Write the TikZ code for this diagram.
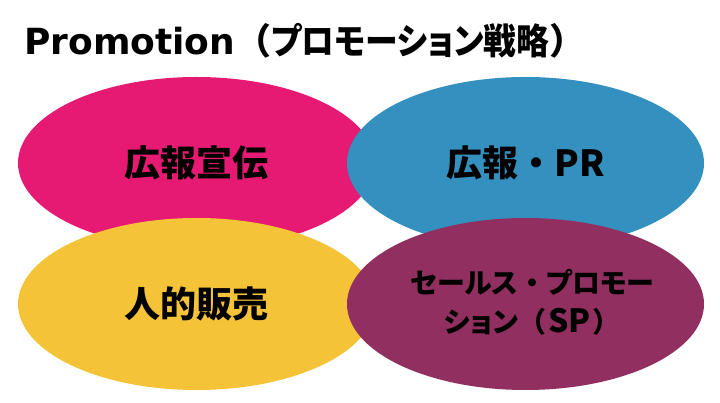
\documentclass[tikz,border=0pt]{standalone}
\usepackage{fontspec}
\usetikzlibrary{shapes.geometric}
\newfontfamily\jpfont{Noto Sans CJK JP}[RawFeature=+palt]
\newfontfamily\jptitle{Noto Sans CJK JP}[RawFeature=+palt, FakeStretch=0.91]
\newfontfamily\jpfull{Noto Sans CJK JP}
\newfontfamily\latinfont{DejaVu Sans}
\newcommand\fw[1]{{\jpfull\bfseries #1}}
\definecolor{cpink}{HTML}{E61973}
\definecolor{cblue}{HTML}{3490BE}
\definecolor{cyellow}{HTML}{F5C337}
\definecolor{cpurple}{HTML}{913060}
\begin{document}
\begin{tikzpicture}[x=1pt,y=-1pt,
  ell/.style={ellipse, draw=none, minimum width=357pt, minimum height=172pt, inner sep=0pt,
    font=\jpfont\bfseries\fontsize{36}{40}\selectfont, text=black, align=center},
  smalltxt/.style={inner sep=0pt, align=center, text=black, font=\jpfont\bfseries\fontsize{28}{39}\selectfont}]
\useasboundingbox (0,0) rectangle (720,403);
\fill[white] (0,0) rectangle (720,403);
\node[anchor=base west, inner sep=0pt] (title) at (24,55)
  {\latinfont\bfseries\fontsize{36}{40}\selectfont Promotion\fw{（}\jptitle\bfseries プロモーション戦略\fw{）}};
\node[ell, fill=cpink] (pr) at (196.5,163) {広報宣伝};
\node[ell, fill=cblue] (pb) at (525.5,163) {広報\fw{・}PR};
\node[ell, fill=cyellow] (py) at (196.5,304) {人的販売};
\node[ell, fill=cpurple] (pp) at (525.5,304) {};
\node[smalltxt] (ppt) at (pp.center) [xshift=7pt, yshift=2pt] {セールス\fw{・}プロモー\\ション\fw{（}\hspace{2pt}{\fontsize{32}{39}\selectfont SP}\hspace{2pt}\fw{）}};
\end{tikzpicture}
\end{document}
